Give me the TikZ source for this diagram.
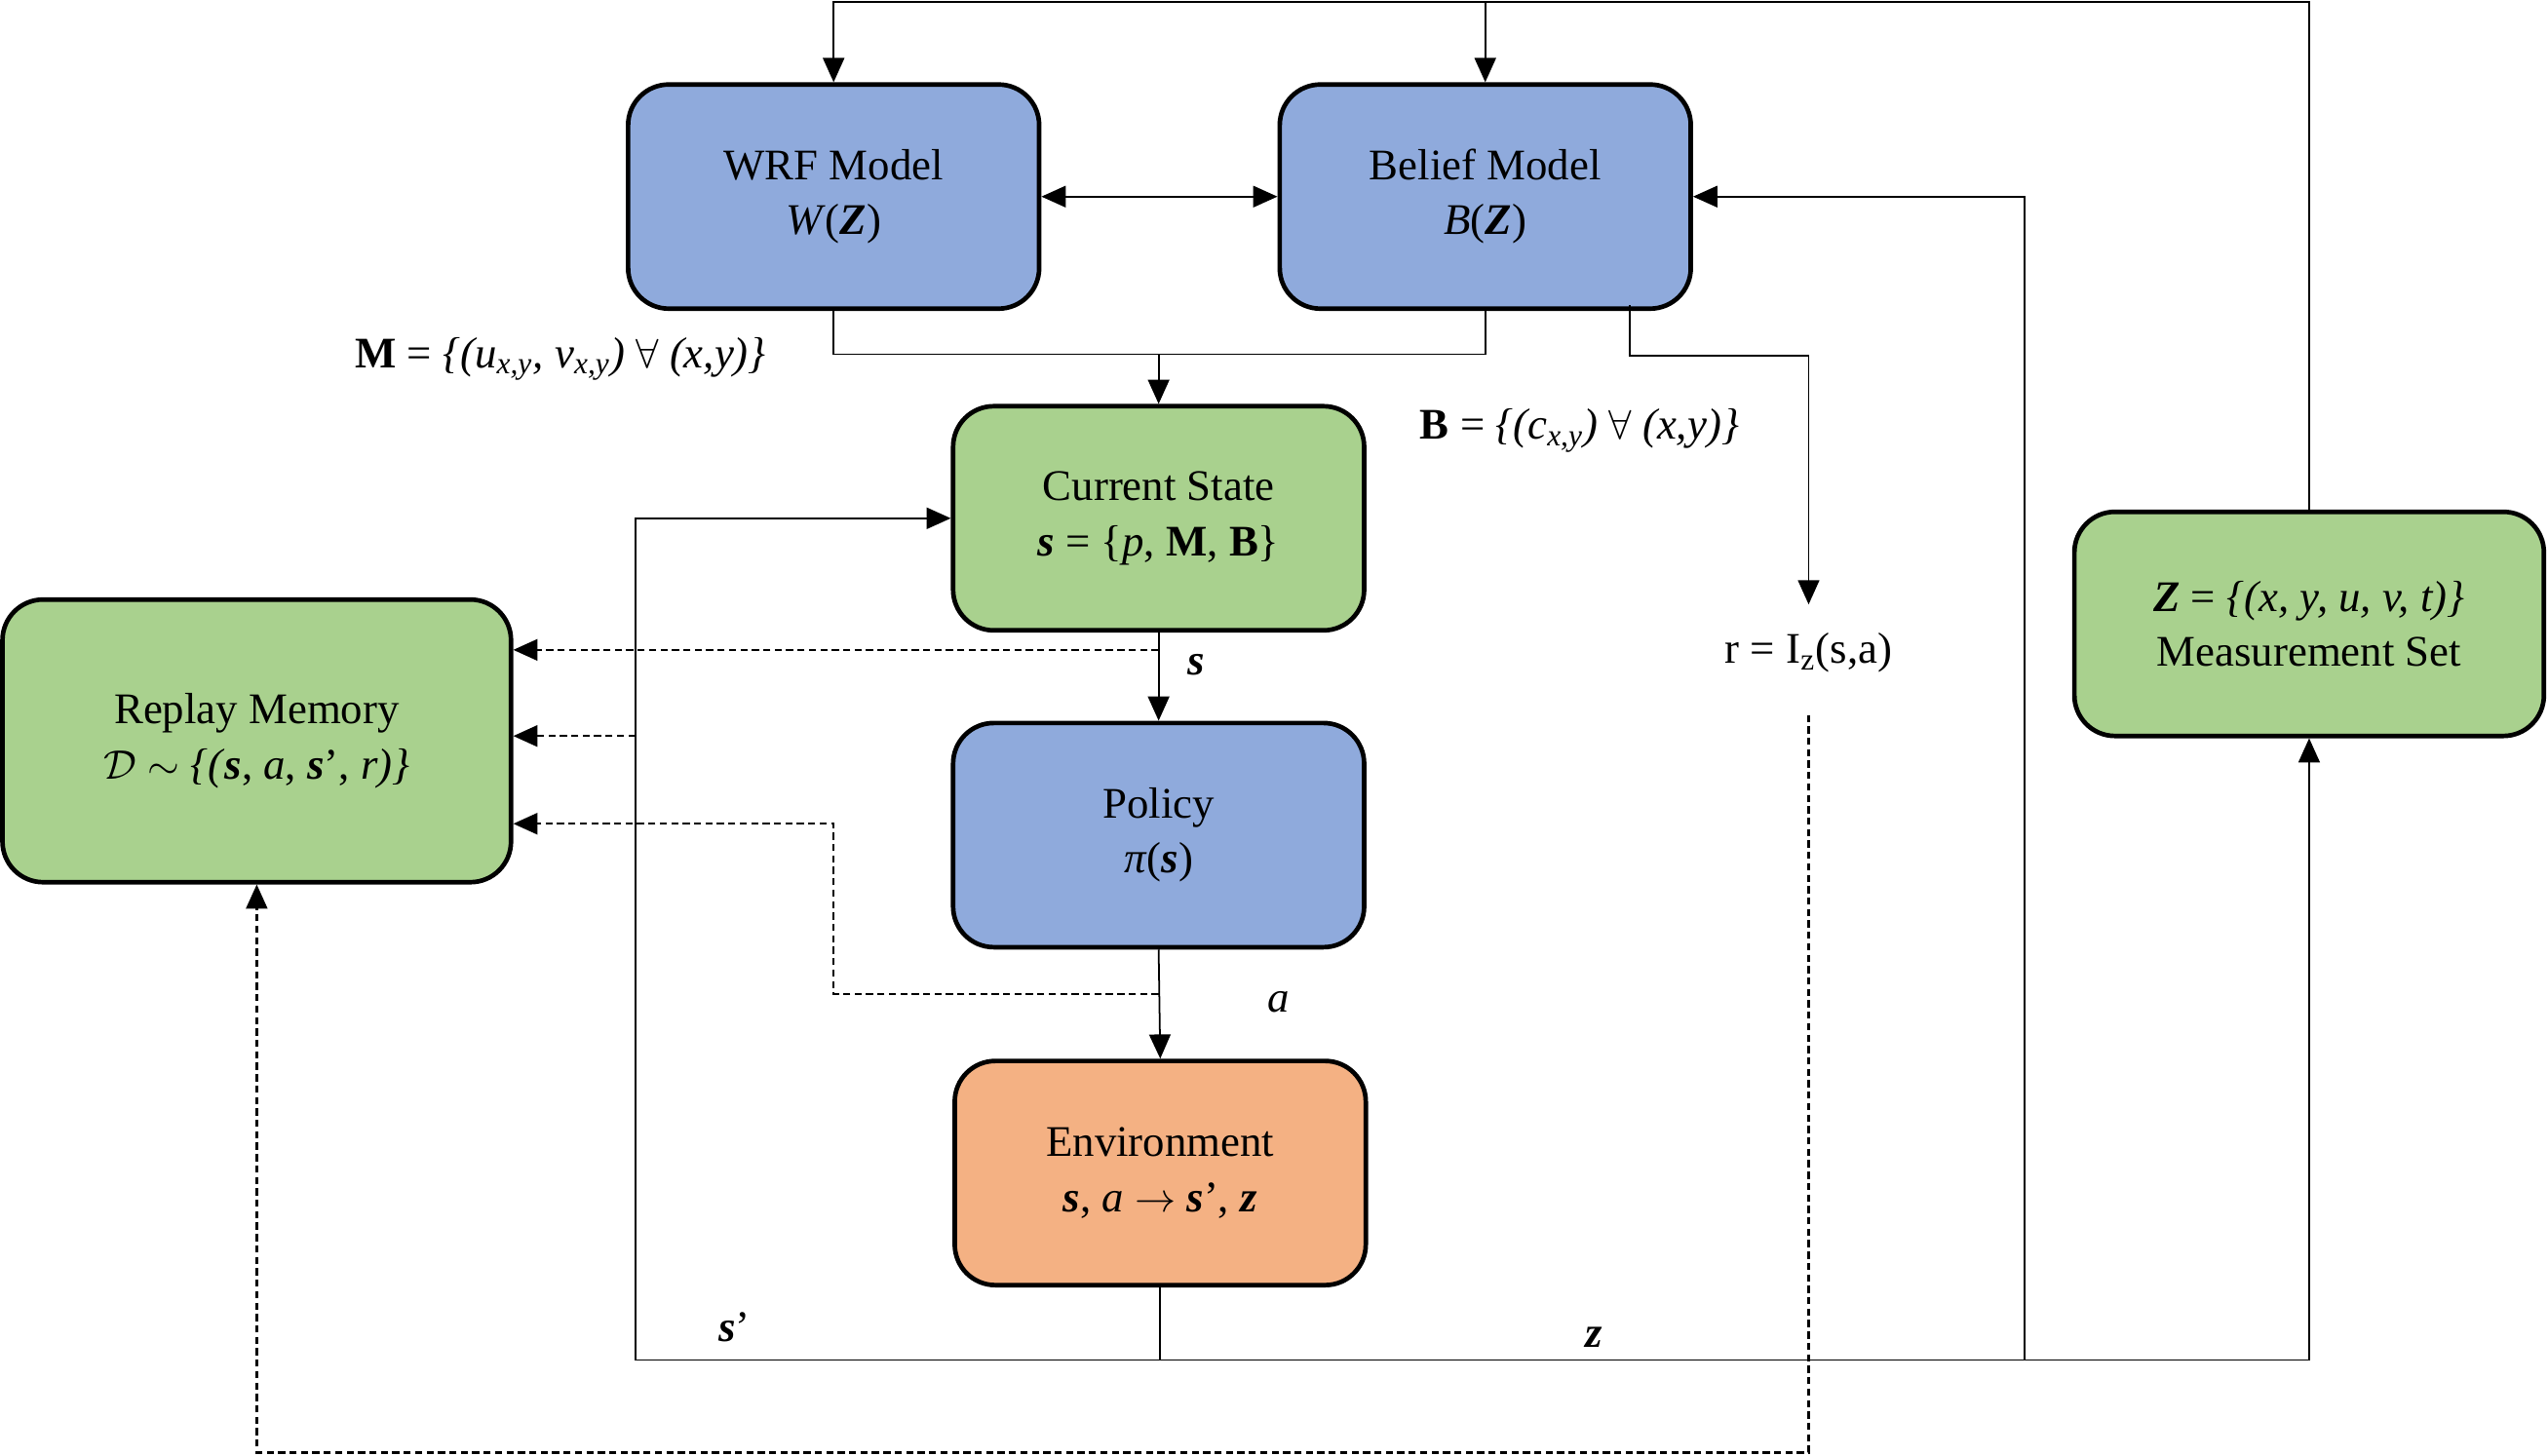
\documentclass[tikz,border=0pt]{standalone}
\usepackage{amsmath}
\usepackage{fontspec}
\setmainfont{Liberation Serif}
\usepackage{xcolor}
\definecolor{modelblue}{HTML}{8FAADC}
\definecolor{stategreen}{HTML}{A9D18E}
\definecolor{envorange}{HTML}{F4B183}
\usepackage{tikz}
\usetikzlibrary{positioning, arrows.meta}
\newcommand{\bi}[1]{\textbf{\textit{#1}}}
\newcommand{\boxfont}{\fontsize{15.3}{19.3}\selectfont}

\begin{document}
\begin{tikzpicture}[x=0.02cm, y=-0.02cm,
        blk/.style={draw, line width=1.6pt, rounded corners=0.5cm, align=center,
            minimum width=5.06cm, minimum height=2.76cm, font=\boxfont},
        lbl/.style={font=\boxfont, inner sep=1pt},
        >={Triangle[length=8.5pt, width=7.5pt]},
        link/.style={line width=0.6pt},
        dlink/.style={line width=0.75pt, dash pattern=on 2.5pt off 1.5pt}]
    \useasboundingbox (0,0) rectangle (1568,896);
    % boxes
    \node[blk, fill=modelblue] (wrf) at (513,121) {WRF Model\\ \textit{W}(\bi{Z})};
    \node[blk, fill=modelblue] (belief) at (914,121) {Belief Model\\ \textit{B}(\bi{Z})};
    \node[blk, fill=stategreen] (cur) at (713,319) {Current State\\ \bi{s} = \{\textit{p}, \textbf{M}, \textbf{B}\}};
    \node[blk, fill=modelblue] (pol) at (713,514) {Policy\\ \textit{π}(\bi{s})};
    \node[blk, fill=envorange] (env) at (714,722) {Environment\\ \bi{s}, \textit{a} $\rightarrow$ \bi{s}’, \bi{z}};
    \node[blk, fill=stategreen, minimum width=6.26cm, minimum height=3.48cm] (replay) at (158,456)
        {Replay Memory\\ $\mathcal{D}$ $\sim$ \textit{\{(}\bi{s}, \textit{a}, \bi{s}’, \textit{r)\}}};
    \node[blk, fill=stategreen, minimum width=5.78cm] (meas) at (1421,384)
        {\bi{Z} = \textit{\{(x, y, u, v, t)\}}\\ Measurement Set};
    % texts
    \node[lbl] (mset) at (345,221) {\textbf{M} = \textit{\{(u\textsubscript{x,y}, v\textsubscript{x,y})} $\forall$ \textit{(x,y)\}}};
    \node[lbl] (bset) at (972,265) {\textbf{B} = \textit{\{(c\textsubscript{x,y})} $\forall$ \textit{(x,y)\}}};
    \node[lbl] (reward) at (1113,402) {r = I\textsubscript{z}(s,a)};
    \node[lbl] (slbl) at (736,409) {\bi{s}};
    \node[lbl] (albl) at (787,617) {\textit{a}};
    \node[lbl] (snext) at (452,817) {\bi{s}’};
    \node[lbl] (zlbl) at (981,823) {\bi{z}};
    % joints
    \coordinate (topjoin) at (belief.north |- 0,1);
    \coordinate (mjoin) at (cur.north |- 0,218);
    \coordinate (bout) at (1003,188);
    \coordinate (rtop) at (1113,372);
    \coordinate (rbot) at (1113,440);
    \coordinate (sjoin) at (713,400);
    \coordinate (ajoin) at (713,612);
    \coordinate (envout) at (env.south |- 0,837);
    \coordinate (loopleft) at (391,837);
    \coordinate (loopright) at (1246,837);
    % solid connectors
    \draw[link, ->] (meas.north) |- (topjoin) -| (wrf.north);
    \draw[link, ->] (topjoin) -- (belief.north);
    \draw[link, <->] (wrf.east) -- (belief.west);
    \draw[link] (wrf.south) |- (mjoin) -| (belief.south);
    \draw[link, ->] (mjoin) -- (cur.north);
    \draw[link, ->] (bout) |- (1113,219) -- (rtop);
    \draw[link, ->] (cur.south) -- (pol.north);
    \draw[link, ->] (pol.south) -- (env.north);
    \draw[link, ->] (env.south) -- (envout) -| (meas.south);
    \draw[link, ->] (envout) -- (loopleft) |- (cur.west);
    \draw[link, ->] (loopright) |- (belief.east);
    % dashed connectors
    \draw[dlink, ->] (sjoin) -- (replay.east |- sjoin);
    \draw[dlink, ->] (loopleft |- 0,453) -- (replay.east |- 0,453);
    \draw[dlink, ->] (ajoin) -| (513,507) -- (replay.east |- 0,507);
    \draw[dlink, ->] (rbot) -- (1113,894) -| (replay.south);
\end{tikzpicture}
\end{document}
